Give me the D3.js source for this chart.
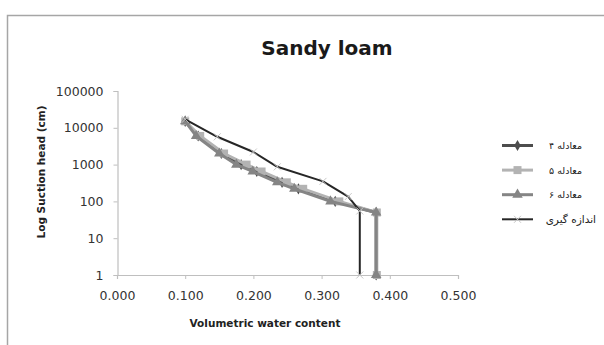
<!DOCTYPE html>
<html>
<head>
<meta charset="utf-8">
<script src="https://cdn.jsdelivr.net/npm/d3@7"></script>
<style>
  body { margin: 0; background: #fff; }
  svg { display: block; }
</style>
</head>
<body>
<div id="chart"></div>
<script>
// Suction heads (cm) shared by the three equation series.
const heads = [15000, 6000, 2000, 1000, 650, 330, 220, 100, 50, 1];

// Volumetric water content for each equation.
const eq4 = [0.100, 0.119, 0.153, 0.182, 0.205, 0.242, 0.266, 0.320, 0.380, 0.380];
const eq5 = [0.100, 0.122, 0.157, 0.190, 0.212, 0.249, 0.273, 0.326, 0.381, 0.381];
const eq6 = [0.100, 0.116, 0.150, 0.175, 0.199, 0.235, 0.260, 0.313, 0.380, 0.380];

// Measured curve.
const measuredHeads = [17000, 5700, 2200, 870, 350, 135, 55, 1];
const measuredTheta = [0.100, 0.147, 0.200, 0.235, 0.302, 0.339, 0.356, 0.356];

const legendNames = ["معادله ۴", "معادله ۵", "معادله ۶", "اندازه گیری"];
const xTicks = [0, 0.1, 0.2, 0.3, 0.4, 0.5];
const yTicks = [1, 10, 100, 1000, 10000, 100000];

const width = 604;
const height = 345;

const svg = d3
  .select("#chart")
  .append("svg")
  .attr("width", width)
  .attr("height", height);

// Chart area border (runs off the right and bottom edge).
svg
  .append("rect")
  .attr("x", 7.5)
  .attr("y", 15.5)
  .attr("width", 620)
  .attr("height", 360)
  .attr("fill", "none")
  .attr("stroke", "#a6a6a6")
  .attr("stroke-width", 1.5);

svg
  .append("text")
  .attr("x", 327)
  .attr("y", 55)
  .attr("text-anchor", "middle")
  .style("font-family", "DejaVu Sans")
  .style("font-weight", "bold")
  .style("font-size", "20px")
  .style("fill", "#1a1a1a")
  .text("Sandy loam");

const x = d3.scaleLinear().domain([0, 0.5]).range([117, 458]);
const y = d3.scaleLog().domain([1, 100000]).range([275, 91]);

// ------------------------------------------------------------------------------------------
// Axes

const xAxis = svg
  .append("g")
  .attr("transform", "translate(0,275)")
  .call(
    d3.axisBottom(x).tickValues(xTicks).tickSize(4).tickPadding(12).tickFormat(d3.format(".3f"))
  );

const yAxis = svg
  .append("g")
  .attr("transform", "translate(117.5,0)")
  .call(d3.axisLeft(y).tickValues(yTicks).tickSize(4).tickPadding(10).tickFormat(d3.format("d")));

[xAxis, yAxis].forEach(function (g) {
  g.select(".domain").attr("stroke", "#bfbfbf").attr("stroke-width", 1.2);
  g.selectAll(".tick line").attr("stroke", "#bfbfbf");
  g.selectAll(".tick text")
    .style("font-family", "DejaVu Sans")
    .style("font-size", "12.5px")
    .style("fill", "#333");
});

svg
  .append("text")
  .attr("x", 265)
  .attr("y", 327)
  .attr("text-anchor", "middle")
  .style("font-family", "DejaVu Sans")
  .style("font-weight", "bold")
  .style("font-size", "10.5px")
  .style("fill", "#222")
  .text("Volumetric water content");

svg
  .append("text")
  .attr("transform", "translate(45,172) rotate(-90)")
  .attr("text-anchor", "middle")
  .style("font-family", "DejaVu Sans")
  .style("font-weight", "bold")
  .style("font-size", "10.5px")
  .style("fill", "#222")
  .text("Log Suction head (cm)");

// ------------------------------------------------------------------------------------------
// Series

const series = [
  { name: legendNames[0], xs: eq4, hs: heads, color: "#4d4d4d", width: 3, marker: d3.symbolDiamond, size: 36, mcolor: "#4d4d4d", textEnd: 582 },
  { name: legendNames[1], xs: eq5, hs: heads, color: "#b3b3b3", width: 3, marker: d3.symbolSquare, size: 64, mcolor: "#b3b3b3", textEnd: 582 },
  { name: legendNames[2], xs: eq6, hs: heads, color: "#858585", width: 3, marker: d3.symbolTriangle, size: 48, mcolor: "#858585", textEnd: 582 },
  { name: legendNames[3], xs: measuredTheta, hs: measuredHeads, color: "#262626", width: 2, marker: "cross", size: 0, mcolor: "#c8c8c8", textEnd: 596 },
];

const line = d3
  .line()
  .x((d) => x(d[0]))
  .y((d) => y(d[1]));

function drawMarker(g, s, px, py) {
  if (s.marker === "cross") {
    g.append("path")
      .attr("d", "M-3.5,-3.5L3.5,3.5M-3.5,3.5L3.5,-3.5")
      .attr("transform", "translate(" + px + "," + py + ")")
      .attr("stroke", s.mcolor)
      .attr("stroke-width", 1);
  } else {
    g.append("path")
      .attr("d", d3.symbol().type(s.marker).size(s.size)())
      .attr("transform", "translate(" + px + "," + py + ")")
      .attr("fill", s.mcolor);
  }
}

series.forEach(function (s) {
  const pts = s.xs.map((v, i) => [v, s.hs[i]]);
  const g = svg.append("g");
  g.append("path")
    .attr("d", line(pts))
    .attr("fill", "none")
    .attr("stroke", s.color)
    .attr("stroke-width", s.width)
    .attr("stroke-linejoin", "round");
  pts.forEach(function (p) {
    drawMarker(g, s, x(p[0]), y(p[1]));
  });
});

// ------------------------------------------------------------------------------------------
// Legend

const legend = svg.append("g");
series.forEach(function (s, i) {
  const ly = 145.5 + i * 24.6;
  const g = legend.append("g");
  g.append("line")
    .attr("x1", 502)
    .attr("x2", 533)
    .attr("y1", ly)
    .attr("y2", ly)
    .attr("stroke", s.color)
    .attr("stroke-width", s.width);
  drawMarker(g, s, 517.5, ly);
  g.append("text")
    .attr("x", s.textEnd)
    .attr("y", ly + 3.5)
    .attr("text-anchor", "start")
    .attr("direction", "rtl")
    .style("font-family", "DejaVu Sans")
    .style("font-size", i === 3 ? "10.5px" : "9.5px")
    .style("fill", "#222")
    .text(s.name);
});
</script>
</body>
</html>
